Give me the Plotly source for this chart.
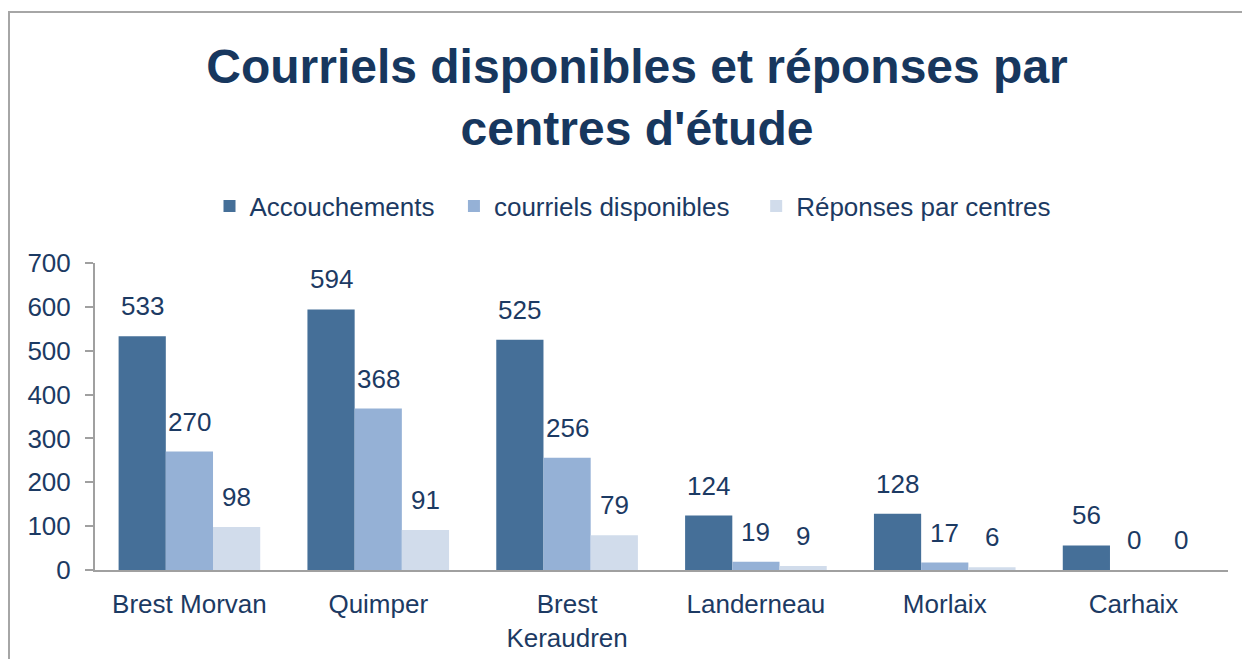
import plotly.graph_objects as go

categories = ["Brest Morvan", "Quimper", "Brest<br>Keraudren", "Landerneau", "Morlaix", "Carhaix"]
series_names = ["Accouchements", "courriels disponibles", "Réponses par centres"]
accouchements = [533, 594, 525, 124, 128, 56]
courriels = [270, 368, 256, 19, 17, 0]
reponses = [98, 91, 79, 9, 6, 0]
y_ticks = [0, 100, 200, 300, 400, 500, 600, 700]

colors = ["#456F98", "#95B1D6", "#D1DCEB"]
text_color = "#1C3A63"
font_family = "Liberation Sans, Arial, sans-serif"

OFF = 8  # page body margin
W, H = 1250, 659
L = 95 - OFF
T = 263 - OFF
R = W - (1228 - OFF)
B = H - (570 - OFF)
pw = W - L - R
ph = H - T - B
plot_bottom = H - B


def py(screen_y):
    return (plot_bottom - (screen_y - OFF)) / ph


def px(screen_x):
    return ((screen_x - OFF) - L) / pw


fig = go.Figure()
all_series = [accouchements, courriels, reponses]
n_series = len(all_series)
pads = ["\u00a0\u00a0", "\u00a0\u00a0\u00a0", ""]
for name, vals, col, pad in zip(series_names, all_series, colors, pads):
    fig.add_trace(go.Bar(name=name + pad, x=categories, y=vals, marker_color=col,
                         marker_line_width=0))

bar_px = pw / len(categories) * 0.75 / 3
annotations = []
for i, vals in enumerate(all_series):
    for c, v in zip(categories, vals):
        annotations.append(dict(x=c, y=v, text=str(v), showarrow=False,
                                xref="x", yref="y", xshift=(i - 1) * bar_px,
                                yanchor="middle", yshift=30,
                                font=dict(size=26, color=text_color, family=font_family)))

shapes = [dict(type="rect", xref="paper", yref="paper",
               x0=px(9), x1=px(1270), y0=py(700), y1=py(12),
               line=dict(color="#A6A6A6", width=2), fillcolor="rgba(0,0,0,0)", layer="below")]

fig.update_layout(
    width=W, height=H,
    margin=dict(l=L, r=R, t=T, b=B),
    paper_bgcolor="white", plot_bgcolor="white",
    barmode="group", bargap=0.25, bargroupgap=0,
    font=dict(family=font_family, color=text_color, size=26),
    title=dict(text="<b>Courriels disponibles et réponses par<br>centres d'étude</b>",
               x=px(637), xref="paper", xanchor="center",
               y=1 - (97 - 14 - OFF) / H, yanchor="middle",
               font=dict(size=48, color="#17375E", family=font_family)),
    legend=dict(orientation="h", x=px(633), xanchor="center",
                y=py(206), yanchor="middle",
                font=dict(size=26, color=text_color), itemwidth=30,
                bgcolor="rgba(0,0,0,0)"),
    xaxis=dict(showline=True, linecolor="#A0A0A0", linewidth=2, ticks="",
               showgrid=False, tickfont=dict(size=26, color=text_color),
               ticklabelstandoff=10),
    yaxis=dict(range=[0, 700], tickvals=y_ticks, showline=True, linecolor="#A0A0A0",
               linewidth=2, ticks="outside", ticklen=8, tickwidth=2, tickcolor="#A0A0A0",
               showgrid=False, zeroline=False, tickfont=dict(size=26, color=text_color),
               ticklabelstandoff=9),
    annotations=annotations,
    shapes=shapes,
    showlegend=True,
)

fig.write_html("out.html")
